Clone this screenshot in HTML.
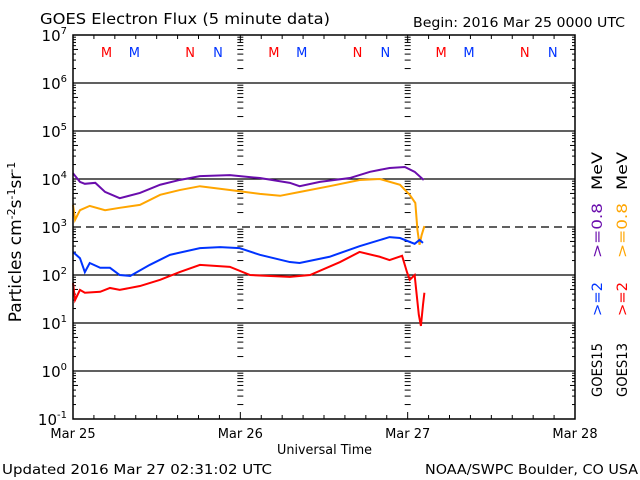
<!DOCTYPE html>
<html><head><meta charset="utf-8"><style>
body{margin:0;background:#fff;width:640px;height:480px;overflow:hidden}
svg{display:block;font-family:"DejaVu Sans","Liberation Sans",sans-serif}
</style></head><body>
<svg id="chart" width="640" height="480" viewBox="0 0 640 480">
<text x="40" y="24" font-size="15" textLength="290" lengthAdjust="spacingAndGlyphs">GOES Electron Flux (5 minute data)</text>
<text x="413" y="27" font-size="13" textLength="212" lengthAdjust="spacingAndGlyphs">Begin: 2016 Mar 25 0000 UTC</text>
<text x="277" y="454" font-size="13" textLength="95" lengthAdjust="spacingAndGlyphs">Universal Time</text>
<text x="2" y="474" font-size="13" textLength="270" lengthAdjust="spacingAndGlyphs">Updated 2016 Mar 27 02:31:02 UTC</text>
<text x="425" y="474" font-size="13" textLength="213" lengthAdjust="spacingAndGlyphs">NOAA/SWPC Boulder, CO USA</text>
<text transform="translate(21,242) rotate(-90)" font-size="17" text-anchor="middle">Particles cm<tspan dy="-6" font-size="11">-2</tspan><tspan dy="6">s</tspan><tspan dy="-6" font-size="11">-1</tspan><tspan dy="6">sr</tspan><tspan dy="-6" font-size="11">-1</tspan></text>
<g font-size="14">
<text transform="translate(602,397) rotate(-90)" textLength="54" lengthAdjust="spacingAndGlyphs">GOES15</text>
<text transform="translate(602,316) rotate(-90)" fill="#0033ff" textLength="34" lengthAdjust="spacingAndGlyphs">&gt;=2</text>
<text transform="translate(602,258) rotate(-90)" fill="#6a0dad" textLength="55" lengthAdjust="spacingAndGlyphs">&gt;=0.8</text>
<text transform="translate(602,190) rotate(-90)" textLength="38" lengthAdjust="spacingAndGlyphs">MeV</text>
</g>
<g font-size="14">
<text transform="translate(627,397) rotate(-90)" textLength="54" lengthAdjust="spacingAndGlyphs">GOES13</text>
<text transform="translate(627,316) rotate(-90)" fill="#ff0000" textLength="34" lengthAdjust="spacingAndGlyphs">&gt;=2</text>
<text transform="translate(627,258) rotate(-90)" fill="#ffa500" textLength="55" lengthAdjust="spacingAndGlyphs">&gt;=0.8</text>
<text transform="translate(627,190) rotate(-90)" textLength="38" lengthAdjust="spacingAndGlyphs">MeV</text>
</g>
<g id="grid"></g><g id="series"></g>
<rect x="73" y="35" width="502" height="384" fill="none" stroke="#000" stroke-width="1.5"/>
</svg>
<script>
const dayLabels=["Mar 25","Mar 26","Mar 27","Mar 28"];
const decades=[-1,0,1,2,3,4,5,6,7];
const markerLabels=["M","M","N","N"];
const markerHours=[4.8,8.8,16.8,20.8];
const markerColors=["#ff0000","#0033ff","#ff0000","#0033ff"];
const purpleT=[0,1.0,1.7,3.2,4.6,6.7,9.6,12.5,15.3,18.2,22.5,26.8,31.1,32.5,35.4,39.7,42.6,45.4,47.6,49.0,50.3];
const purpleV=[4.12,3.94,3.9,3.92,3.73,3.6,3.71,3.88,3.98,4.06,4.08,4.02,3.92,3.85,3.94,4.02,4.15,4.23,4.25,4.15,3.98];
const orangeT=[0,0.3,1.0,2.4,4.6,6.7,9.6,12.5,15.3,18.2,22.5,26.8,29.7,32.5,36.8,41.1,44.0,46.9,48.3,49.1,49.4,49.7,50.0,50.4];
const orangeV=[3.46,3.15,3.35,3.44,3.35,3.40,3.46,3.67,3.77,3.85,3.77,3.69,3.65,3.73,3.85,3.98,4.0,3.88,3.67,3.5,2.94,2.63,2.83,3.02];
const blueT=[0,1.0,1.7,2.4,3.9,5.3,6.7,8.2,11.0,13.9,18.2,21.1,23.9,26.8,31.1,32.5,36.8,41.1,45.4,46.9,49.0,49.7,50.2];
const blueV=[2.48,2.35,2.06,2.25,2.15,2.15,2.0,1.98,2.21,2.42,2.56,2.58,2.56,2.42,2.27,2.25,2.38,2.6,2.79,2.77,2.65,2.73,2.67];
const redT=[0,0.3,1.0,1.7,3.9,5.3,6.7,9.6,12.5,15.3,18.2,22.5,25.4,31.1,34.0,38.3,41.1,44.0,45.4,47.2,47.9,48.3,49.0,49.3,49.6,49.9,50.2,50.4];
const redV=[1.83,1.48,1.69,1.63,1.65,1.73,1.69,1.77,1.9,2.06,2.21,2.17,2.0,1.96,2.0,2.27,2.48,2.38,2.31,2.4,2.06,1.9,2.0,1.58,1.17,0.94,1.38,1.63];

const NS="http://www.w3.org/2000/svg";
const X0=73,X1=575,Y0=419,Y1=35;
const xs=h=>X0+(h/72)*(X1-X0);
const ys=l=>Y0-(l+1)/8*(Y0-Y1);
const grid=document.getElementById('grid'),ser=document.getElementById('series');
function mk(tag,attrs,parent){const e=document.createElementNS(NS,tag);for(const k in attrs)e.setAttribute(k,attrs[k]);parent.appendChild(e);return e;}
decades.forEach(d=>{
  const y=ys(d);
  if(d>-1&&d<7){const ln=mk('line',{x1:X0,x2:X1,y1:y,y2:y,stroke:'#000','stroke-width':1.2,'stroke-dasharray':d===3?'8,5':'none'},grid);
  
  }
  const t=mk('text',{x:67,y:y+6,'font-size':15,'text-anchor':'end'},grid);
  
  
  t.innerHTML='10<tspan dy="-7" font-size="10">'+d+'</tspan>';
  if(d<7){for(let m=2;m<=9;m++){const yy=ys(d+Math.log10(m));
    const w=m===5?5:3;
    mk('line',{x1:X0,x2:X0+w,y1:yy,y2:yy,stroke:'#000'},grid);
    mk('line',{x1:X1-w,x2:X1,y1:yy,y2:yy,stroke:'#000'},grid);
    [1,2].forEach(k=>{const xd=xs(24*k);mk('line',{x1:xd-3,x2:xd+3,y1:yy,y2:yy,stroke:'#000','stroke-width':1},grid);});
  }}
});
for(let h=3;h<72;h+=3){const x=xs(h);const L=h%24===0?7:4;
  mk('line',{x1:x,x2:x,y1:Y1,y2:Y1+L,stroke:'#000'},grid);mk('line',{x1:x,x2:x,y1:Y0,y2:Y0-L,stroke:'#000'},grid);}
dayLabels.forEach((d,i)=>{const t=mk('text',{x:xs(24*i),y:438,'font-size':13,'text-anchor':'middle'},grid);
  
  
  t.textContent=d;});
for(let day=0;day<3;day++)markerLabels.forEach((m,i)=>{const t=mk('text',{x:xs(24*day+markerHours[i]),y:57,'font-size':13,'text-anchor':'middle',fill:markerColors[i]},grid);
  
  
  t.textContent=m;});
function line(T,V,color,name){const p=mk('polyline',{points:T.map((t,i)=>xs(t)+','+ys(V[i])).join(' '),fill:'none',stroke:color,'stroke-width':2},ser);
  
  }
line(purpleT,purpleV,'#6a0dad','goes15-0.8mev-line');
line(orangeT,orangeV,'#ffa500','goes13-0.8mev-line');
line(blueT,blueV,'#0033ff','goes15-2mev-line');
line(redT,redV,'#ff0000','goes13-2mev-line');
</script>
</body></html>
